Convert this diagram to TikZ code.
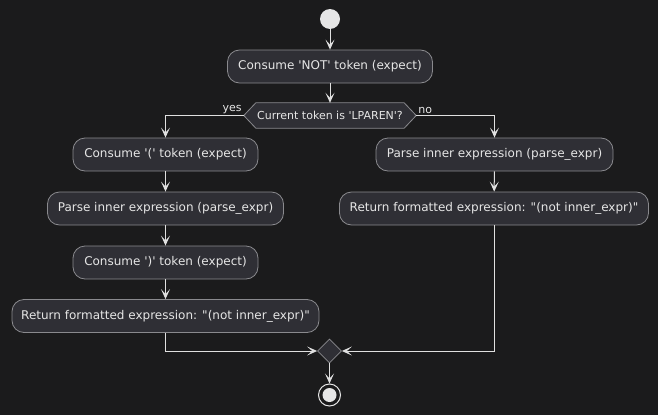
\documentclass[tikz,border=0pt]{standalone}
\usepackage{fontspec}
\setmainfont{DejaVu Sans}
\usetikzlibrary{arrows.meta,shapes.geometric}
\definecolor{bg}{HTML}{1B1B1C}
\definecolor{boxfill}{HTML}{2F2F35}
\definecolor{boxline}{HTML}{8A8A8E}
\definecolor{fg}{HTML}{E6E6E6}
\definecolor{linec}{HTML}{E0E0E0}
\newcommand{\sq}{\textquotesingle}
\newcommand{\dq}{\textquotedbl}
\tikzset{
  act/.style={draw=boxline, fill=boxfill, rounded corners=12pt, line width=0.8pt,
    minimum height=33pt, inner sep=0pt, text=fg, font=\fontsize{12}{14}\selectfont},
  flow/.style={draw=linec, line width=1pt, -{Stealth[length=10pt,width=9pt,inset=5pt]}},
  lbl/.style={text=fg, font=\fontsize{11}{13}\selectfont, inner sep=1pt},
}
\begin{document}
\begin{tikzpicture}[x=1pt,y=-1pt]
\useasboundingbox[fill=bg] (0,0) rectangle (658,415);
% start
\node[circle, fill=fg, minimum size=20pt, inner sep=0pt] (start) at (330,19) {};
\node[act, minimum width=205pt] (b1) at (330,66.5) {Consume \sq NOT\sq\ token (expect)};
% decision hexagon
\node[inner sep=0pt, minimum width=172pt, minimum height=25pt] (dec) at (330,115.5) {};
\draw[draw=boxline, fill=boxfill, line width=0.8pt] (dec.west) -- ([xshift=12pt]dec.north west) -- ([xshift=-12pt]dec.north east) -- (dec.east) -- ([xshift=-12pt]dec.south east) -- ([xshift=12pt]dec.south west) -- cycle;
\node[inner sep=0pt, text=fg, font=\fontsize{11}{13}\selectfont] (dectext) at (dec.center) {Current token is \sq LPAREN\sq?};
\node[lbl, anchor=south east] (yes) at ([xshift=-1pt,yshift=1pt]dec.west) {yes};
\node[lbl, anchor=south west] (no) at ([xshift=1pt,yshift=1pt]dec.east) {no};
% left branch
\node[act, minimum width=185pt] (l1) at (165.5,154.5) {Consume \sq(\sq\ token (expect)};
\node[act, minimum width=236pt] (l2) at (165.5,208.5) {Parse inner expression (parse\_expr)};
\node[act, minimum width=185pt] (l3) at (165.5,262.5) {Consume \sq)\sq\ token (expect)};
\node[act, minimum width=307pt] (l4) at (165.5,316) {Return formatted expression: \dq(not inner\_expr)\dq};
% right branch
\node[act, minimum width=237pt] (r1) at (494.5,154.5) {Parse inner expression (parse\_expr)};
\node[act, minimum width=309pt] (r2) at (494,208.5) {Return formatted expression: \dq(not inner\_expr)\dq};
% merge
\node[draw=boxline, fill=boxfill, line width=0.8pt, diamond, minimum width=24pt, minimum height=24pt, inner sep=0pt] (m) at (329.5,351) {};
% end
\node[circle, draw=fg, line width=1pt, minimum size=22pt, inner sep=0pt] (stop) at (329.5,395) {};
\node[circle, fill=fg, minimum size=14pt, inner sep=0pt] (stopin) at (329.5,395) {};
% connectors
\draw[flow] (start) -- (b1);
\draw[flow] (b1) -- (dec.north);
\draw[flow] (dec.west) -| (l1.north);
\draw[flow] (dec.east) -| (r1.north);
\draw[flow] (l1) -- (l2);
\draw[flow] (l2) -- (l3);
\draw[flow] (l3) -- (l4);
\draw[flow] (r1) -- (r2);
\draw[flow] (l4.south) |- (m.west);
\draw[flow] (r2.south) |- (m.east);
\draw[flow] (m.south) -- (stop.north);
\end{tikzpicture}
\end{document}
